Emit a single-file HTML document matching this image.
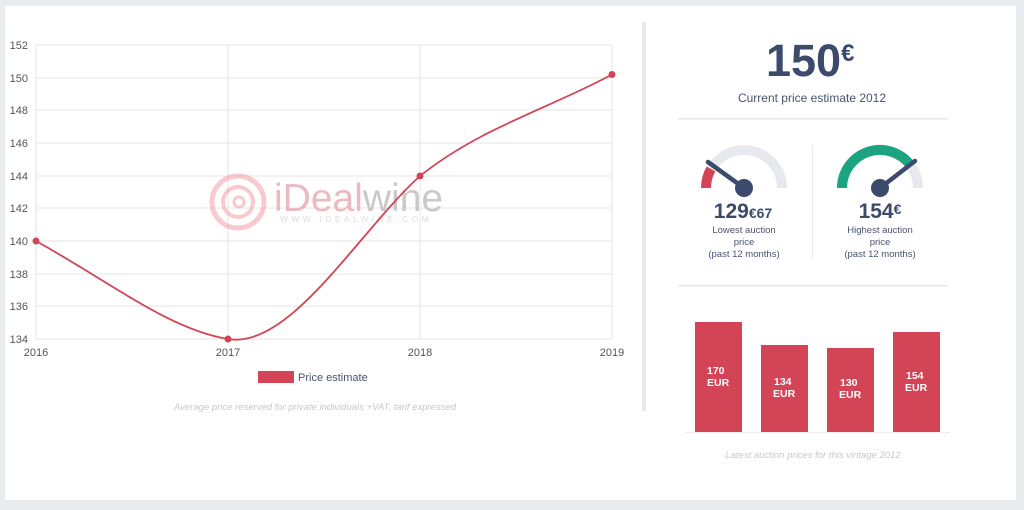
<!DOCTYPE html>
<html><head><meta charset="utf-8"><style>
html,body{margin:0;padding:0;background:#e9ecef;width:1024px;height:510px;overflow:hidden}
svg{display:block;font-family:"Liberation Sans",sans-serif}
</style></head><body>
<svg width="1024" height="510" viewBox="0 0 1024 510">
<rect x="0" y="0" width="1024" height="510" fill="#e9ecef"/>
<rect x="5" y="6" width="1011" height="494" fill="#fff"/>
<!-- grid -->
<g stroke="#e6e6e6" stroke-width="1">
<line x1="36" y1="45" x2="612" y2="45"/><line x1="36" y1="78" x2="612" y2="78"/>
<line x1="36" y1="110" x2="612" y2="110"/><line x1="36" y1="143" x2="612" y2="143"/>
<line x1="36" y1="176" x2="612" y2="176"/><line x1="36" y1="208" x2="612" y2="208"/>
<line x1="36" y1="241" x2="612" y2="241"/><line x1="36" y1="274" x2="612" y2="274"/>
<line x1="36" y1="306" x2="612" y2="306"/><line x1="36" y1="339" x2="612" y2="339"/>
<line x1="36" y1="45" x2="36" y2="339"/><line x1="228" y1="45" x2="228" y2="339"/>
<line x1="420" y1="45" x2="420" y2="339"/><line x1="612" y1="45" x2="612" y2="339"/>
</g>
<g font-size="11" fill="#555" text-anchor="end">
<text x="28" y="49">152</text><text x="28" y="82">150</text><text x="28" y="114">148</text>
<text x="28" y="147">146</text><text x="28" y="180">144</text><text x="28" y="212">142</text>
<text x="28" y="245">140</text><text x="28" y="278">138</text><text x="28" y="310">136</text>
<text x="28" y="343">134</text>
</g>
<g font-size="11" fill="#555" text-anchor="middle">
<text x="36" y="356">2016</text><text x="228" y="356">2017</text><text x="420" y="356">2018</text><text x="612" y="356">2019</text>
</g>
<!-- watermark -->
<g opacity="0.45">
<circle cx="238" cy="202" r="26" fill="none" stroke="#f08a96" stroke-width="5"/>
<circle cx="238" cy="202" r="15" fill="none" stroke="#f08a96" stroke-width="4"/>
<circle cx="239" cy="202" r="5" fill="none" stroke="#f08a96" stroke-width="3"/>
</g>
<text x="274" y="211" font-size="39" fill="#edb9c0">iDeal<tspan fill="#c9c9c9">wine</tspan></text>
<text x="280" y="222" font-size="8.5" fill="#ddd" letter-spacing="3.4">WWW.IDEALWINE.COM</text>
<!-- line -->
<path d="M36,241 C110,282 170,330 228,339 C290,350 360,230 420,176 C480,128 550,108 612,74.5" fill="none" stroke="#d24456" stroke-width="1.8"/>
<g fill="#d24456"><circle cx="36" cy="241" r="3.5"/><circle cx="228" cy="339" r="3.5"/><circle cx="420" cy="176" r="3.5"/><circle cx="612" cy="74.5" r="3.5"/></g>
<rect x="258" y="371" width="36" height="12" fill="#d24456"/>
<text x="298" y="381" font-size="11" fill="#4a5470">Price estimate</text>
<text x="315" y="410" font-size="9.5" fill="#c8c8c8" font-style="italic" text-anchor="middle">Average price reserved for private individuals +VAT, tarif expressed</text>
<!-- divider -->
<rect x="642" y="22" width="4" height="389" fill="#e6e9ee"/>
<!-- right -->
<text x="766" y="76" font-size="45" font-weight="bold" fill="#3c4a6b">150<tspan font-size="24" dy="-15">€</tspan></text>
<text x="812" y="102" font-size="12" fill="#4a5470" text-anchor="middle">Current price estimate 2012</text>
<rect x="678" y="118" width="270" height="1.5" fill="#e6e9ee"/>
<!-- gauges -->
<path d="M706,188 A38,38 0 0 1 782,188" fill="none" stroke="#e6e9ee" stroke-width="10"/>
<path d="M706,188 A38,38 0 0 1 711,169" fill="none" stroke="#d24456" stroke-width="10"/>
<line x1="744" y1="188" x2="708" y2="162" stroke="#3c4a6b" stroke-width="4.5" stroke-linecap="round"/>
<circle cx="744" cy="188" r="9" fill="#3c4a6b"/>
<path d="M842,188 A38,38 0 0 1 918,188" fill="none" stroke="#e6e9ee" stroke-width="10"/>
<path d="M842,188 A38,38 0 0 1 911,166" fill="none" stroke="#1ba382" stroke-width="10"/>
<line x1="880" y1="188" x2="915" y2="161" stroke="#3c4a6b" stroke-width="4.5" stroke-linecap="round"/>
<circle cx="880" cy="188" r="9" fill="#3c4a6b"/>
<rect x="812" y="145" width="1" height="113" fill="#e6e9ee"/>
<text x="743" y="218" font-size="21" font-weight="bold" fill="#3c4a6b" text-anchor="middle">129<tspan font-size="14">€67</tspan></text>
<text x="880" y="218" font-size="21" font-weight="bold" fill="#3c4a6b" text-anchor="middle">154<tspan font-size="14" dy="-4">€</tspan></text>
<g font-size="9.5" fill="#4a5470" text-anchor="middle">
<text x="744" y="233">Lowest auction</text><text x="744" y="245">price</text><text x="744" y="257">(past 12 months)</text>
<text x="880" y="233">Highest auction</text><text x="880" y="245">price</text><text x="880" y="257">(past 12 months)</text>
</g>
<rect x="678" y="285" width="270" height="1.5" fill="#e6e9ee"/>
<!-- bars -->
<g fill="#d24456">
<rect x="695" y="322" width="47" height="110"/><rect x="761" y="345" width="47" height="87"/>
<rect x="827" y="348" width="47" height="84"/><rect x="893" y="332" width="47" height="100"/>
</g>
<rect x="685" y="432" width="265" height="1" fill="#eee"/>
<g font-size="10.5" font-weight="bold" fill="#fff">
<text x="707" y="374">170</text><text x="707" y="386">EUR</text>
<text x="774" y="385">134</text><text x="773" y="397">EUR</text>
<text x="840" y="386">130</text><text x="839" y="398">EUR</text>
<text x="906" y="379">154</text><text x="905" y="391">EUR</text>
</g>
<text x="813" y="458" font-size="9.5" fill="#c8c8c8" font-style="italic" text-anchor="middle">Latest auction prices for this vintage 2012</text>
</svg>
</body></html>
